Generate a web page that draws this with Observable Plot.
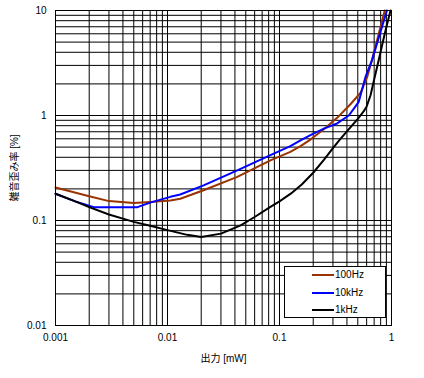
<!DOCTYPE html>
<html><head><meta charset="utf-8">
<script src="https://cdn.jsdelivr.net/npm/d3@7"></script>
<script src="https://cdn.jsdelivr.net/npm/@observablehq/plot@0.6"></script>
<style>
body{margin:0;background:#fff;}
#wrap{position:relative;width:424px;height:378px;}
#legend{position:absolute;left:284px;top:266px;width:102px;height:52px;border:1px solid #000;background:#fff;font:10px "Liberation Sans",Arial,sans-serif;box-sizing:border-box;}
.row{position:absolute;left:0;height:12px;}
.sw{position:absolute;left:27px;width:22px;height:2px;}
.lb{position:absolute;left:50px;top:-6px;white-space:nowrap;line-height:12px;}
</style>
</head><body>
<div id="wrap"><div id="legend"></div></div>
<script>
const seriesNames = ["100Hz", "10kHz", "1kHz"];
const seriesColors = ["#993300", "#0000ff", "#000000"];

const x100 = [0.001,0.002,0.003,0.005,0.007,0.0106,0.013,0.021,0.042,0.083,0.125,0.154,0.189,0.249,0.327,0.43,0.53,0.607,0.67,0.87];
const y100 = [0.206,0.17,0.153,0.147,0.15,0.155,0.161,0.194,0.26,0.374,0.45,0.51,0.59,0.74,0.95,1.28,1.65,2.33,3.37,10];

const x10k = [0.001,0.0015,0.0022,0.0054,0.007,0.0106,0.013,0.021,0.042,0.083,0.125,0.154,0.189,0.249,0.327,0.416,0.51,0.586,0.67,0.91];
const y10k = [0.18,0.152,0.134,0.134,0.148,0.168,0.177,0.216,0.30,0.42,0.51,0.58,0.65,0.75,0.84,1.0,1.35,2.33,3.37,10];

const x1k = [0.001,0.0015,0.002,0.003,0.005,0.007,0.01,0.015,0.02,0.03,0.045,0.06,0.083,0.1,0.126,0.158,0.2,0.25,0.3,0.35,0.42,0.5,0.566,0.6,0.65,0.7,0.77,0.87,0.98];
const y1k = [0.18,0.152,0.134,0.114,0.097,0.089,0.081,0.073,0.0695,0.075,0.09,0.108,0.135,0.152,0.18,0.22,0.285,0.38,0.49,0.6,0.75,0.93,1.1,1.22,1.56,2.2,3.4,6,10];

const xTickLabels = [0.001, 0.01, 0.1, 1];
const yTickLabels = [0.01, 0.1, 1, 10];
const xGridTicks = [0.001,0.002,0.003,0.004,0.005,0.006,0.007,0.008,0.009,0.01,0.02,0.03,0.04,0.05,0.06,0.07,0.08,0.09,0.1,0.2,0.3,0.4,0.5,0.6,0.7,0.8,0.9,1];
const yGridTicks = [0.01,0.02,0.03,0.04,0.05,0.06,0.07,0.08,0.09,0.1,0.2,0.3,0.4,0.5,0.6,0.7,0.8,0.9,1,2,3,4,5,6,7,8,9,10];

const xs = [x100, x10k, x1k], ys = [y100, y10k, y1k];
const table = [];
seriesNames.forEach((s, i) => xs[i].forEach((x, j) => table.push({series: s, x, y: ys[i][j]})));

const chart = Plot.plot({
  width: 424, height: 378,
  marginLeft: 55, marginRight: 33, marginTop: 10, marginBottom: 53,
  style: {fontFamily: '"Liberation Sans", Arial, "Noto Sans CJK JP", sans-serif', fontSize: "10px", background: "#fff", color: "#000"},
  x: {type: "log", domain: [0.001, 1]},
  y: {type: "log", domain: [0.01, 10]},
  color: {domain: seriesNames, range: seriesColors},
  marks: [
    Plot.gridX(xGridTicks, {stroke: "#000", strokeOpacity: 1, strokeWidth: 1}),
    Plot.gridY(yGridTicks, {stroke: "#000", strokeOpacity: 1, strokeWidth: 1}),
    Plot.axisX(xTickLabels, {tickSize: 0, tickPadding: 8, tickFormat: d => String(d), label: "出力 [mW]", labelAnchor: "center", labelArrow: "none", labelOffset: 36, fontFamily: '"Liberation Sans", "Noto Sans CJK JP", sans-serif'}),
    Plot.axisY(yTickLabels, {tickSize: 0, tickPadding: 9, tickFormat: d => String(d), label: "雑音歪み率 [%]", labelAnchor: "center", labelArrow: "none", labelOffset: 45, fontFamily: '"Liberation Sans", "Noto Sans CJK JP", sans-serif'}),
    Plot.line(table, {x: "x", y: "y", z: "series", stroke: "series", strokeWidth: 2, curve: "linear"}),
    Plot.frame({stroke: "#000", strokeWidth: 1})
  ]
});
document.getElementById("wrap").prepend(chart);

const legend = document.getElementById("legend");
const rowTops = [8, 26, 43];
seriesNames.forEach((s, i) => {
  const row = document.createElement("div");
  row.className = "row";
  row.style.top = rowTops[i] + "px";
  row.innerHTML = `<div class="sw" style="background:${seriesColors[i]};top:-1px"></div><div class="lb">${s}</div>`;
  legend.appendChild(row);
});
</script>
</body></html>
